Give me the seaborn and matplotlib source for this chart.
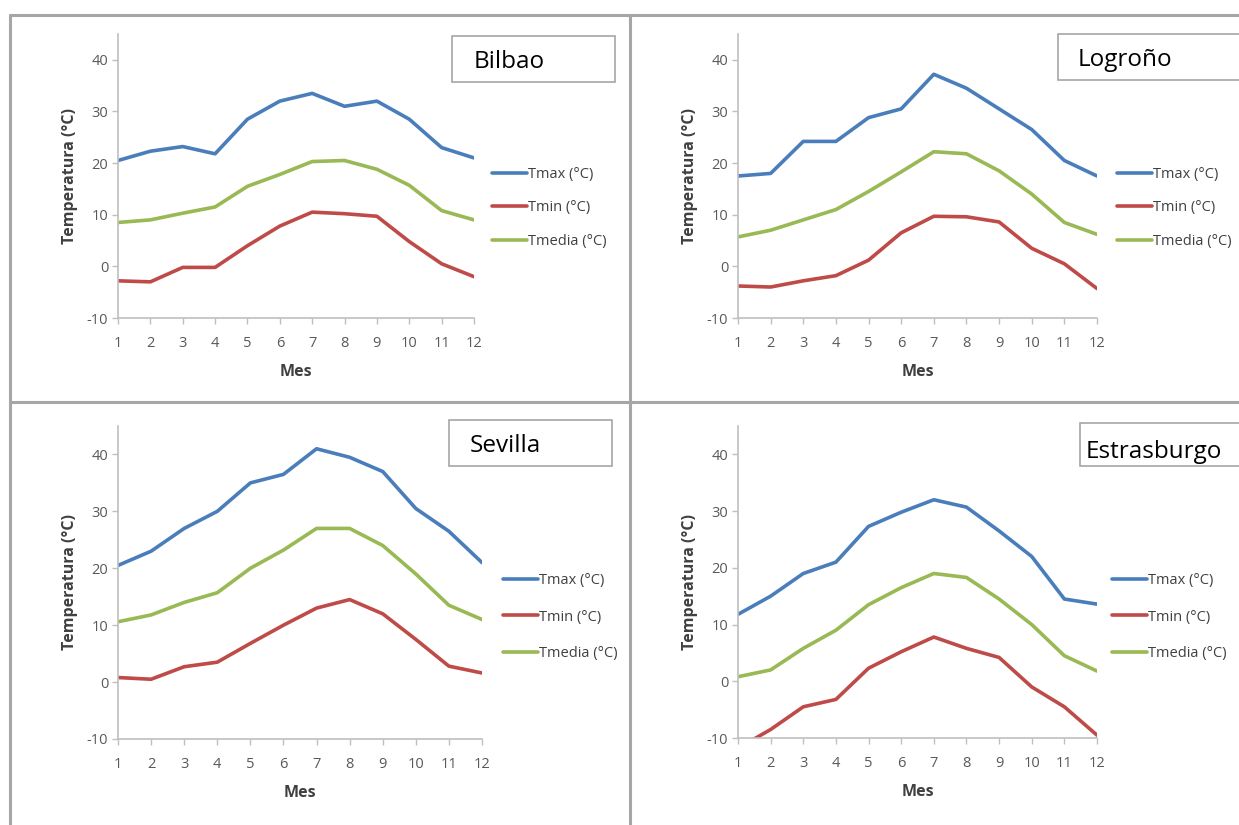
import numpy as np
import pandas as pd
import matplotlib
matplotlib.use('Agg')
import matplotlib.pyplot as plt
import seaborn as sns
from matplotlib.lines import Line2D
from matplotlib.patches import Rectangle

sns.set_theme(style='white')
plt.rcParams['font.family'] = ['Open Sans', 'DejaVu Sans']
plt.rcParams['axes.unicode_minus'] = False

meses = list(range(1, 13))
series = ['Tmax (°C)', 'Tmin (°C)', 'Tmedia (°C)']
colores = ['#4a7ebb', '#be4b48', '#98b954']

# valores, mes 1..12
bilbao_tmax = [20.5, 22.3, 23.2, 21.8, 28.5, 32.0, 33.5, 31.0, 32.0, 28.5, 23.0, 21.0]
bilbao_tmin = [-2.8, -3.0, -0.2, -0.2, 4.0, 7.8, 10.5, 10.2, 9.7, 4.8, 0.5, -2.0]
bilbao_tmed = [8.5, 9.0, 10.3, 11.5, 15.5, 17.8, 20.3, 20.5, 18.8, 15.7, 10.8, 9.0]

logrono_tmax = [17.5, 18.0, 24.2, 24.2, 28.8, 30.5, 37.2, 34.5, 30.5, 26.5, 20.5, 17.5]
logrono_tmin = [-3.8, -4.0, -2.8, -1.8, 1.2, 6.5, 9.7, 9.6, 8.6, 3.5, 0.5, -4.3]
logrono_tmed = [5.7, 7.0, 9.0, 11.0, 14.5, 18.3, 22.2, 21.8, 18.5, 14.0, 8.5, 6.2]

sevilla_tmax = [20.5, 23.0, 27.0, 30.0, 35.0, 36.5, 41.0, 39.5, 37.0, 30.5, 26.5, 21.0]
sevilla_tmin = [0.8, 0.5, 2.7, 3.5, 6.8, 10.0, 13.0, 14.5, 12.0, 7.5, 2.8, 1.6]
sevilla_tmed = [10.6, 11.8, 14.0, 15.7, 20.0, 23.2, 27.0, 27.0, 24.0, 19.0, 13.5, 11.0]

estras_tmax = [11.8, 15.0, 19.0, 21.0, 27.3, 29.8, 32.0, 30.7, 26.5, 22.0, 14.5, 13.6]
estras_tmin = [-11.8, -8.5, -4.5, -3.2, 2.3, 5.2, 7.8, 5.8, 4.2, -1.0, -4.5, -9.5]
estras_tmed = [0.8, 2.0, 5.8, 9.0, 13.5, 16.5, 19.0, 18.3, 14.5, 10.0, 4.5, 1.8]

ciudades = ['Bilbao', 'Logroño', 'Sevilla', 'Estrasburgo']
datos = {
    'Bilbao': [bilbao_tmax, bilbao_tmin, bilbao_tmed],
    'Logroño': [logrono_tmax, logrono_tmin, logrono_tmed],
    'Sevilla': [sevilla_tmax, sevilla_tmin, sevilla_tmed],
    'Estrasburgo': [estras_tmax, estras_tmin, estras_tmed],
}

W, H = 1239, 825
fig = plt.figure(figsize=(W / 100, H / 100), dpi=100)
fig.patch.set_facecolor('white')

def fx(px):
    return px / W

def fy(py):
    return 1 - py / H

# posiciones en pixeles: x mes1, x mes12, y de -10, y de 45
ejes = {
    'Bilbao': (118, 474, 318, 34),
    'Logroño': (738, 1097, 318, 34),
    'Sevilla': (118, 482, 739, 426),
    'Estrasburgo': (738, 1097, 738, 426),
}
leyenda_x = {'Bilbao': 492, 'Logroño': 1117, 'Sevilla': 503, 'Estrasburgo': 1112}
leyenda_y = {'Bilbao': 208, 'Logroño': 208, 'Sevilla': 617, 'Estrasburgo': 617}
leyenda_sp = {'Bilbao': 1.25, 'Logroño': 1.25, 'Sevilla': 1.5, 'Estrasburgo': 1.5}
cajas = {
    'Bilbao': (452, 36, 615, 82, 474, 62),
    'Logroño': (1058, 34, 1250, 80, 1078, 60),
    'Sevilla': (449, 420, 612, 466, 470, 446),
    'Estrasburgo': (1080, 423, 1250, 466, 1086, 452),
}

gris_txt = '#595959'

for ciudad in ciudades:
    x0, x1, yb, yt = ejes[ciudad]
    ax = fig.add_axes([fx(x0), fy(yb), fx(x1 - x0), (yb - yt) / H])
    df = pd.DataFrame({
        'Mes': meses * 3,
        'Temp': sum(datos[ciudad], []),
        'Serie': sum([[s] * 12 for s in series], []),
    })
    sns.lineplot(data=df, x='Mes', y='Temp', hue='Serie', hue_order=series,
                 palette=colores, linewidth=2.6, ax=ax, legend=False)
    for ln in ax.lines:
        ln.set_solid_joinstyle('round')
        ln.set_solid_capstyle('round')
    ax.set_xlim(1, 12)
    ax.set_ylim(-10, 45)
    ax.set_xticks(meses)
    ax.set_yticks([-10, 0, 10, 20, 30, 40])
    sns.despine(ax=ax)
    for s in ['left', 'bottom']:
        ax.spines[s].set_color('#bfbfbf')
        ax.spines[s].set_linewidth(1.2)
    ax.tick_params(axis='both', length=4, width=1, color='#bfbfbf',
                   labelsize=10.5, labelcolor=gris_txt, pad=3, direction='out')
    ax.tick_params(axis='x', pad=9)
    ax.tick_params(left=True, bottom=True)
    ax.set_xlabel('Mes', fontsize=11.5, fontweight='bold', color='#404040', labelpad=9)
    ax.set_ylabel('Temperatura (°C)', fontsize=11.5, fontweight='bold', color='#404040', labelpad=6)
    ax.patch.set_alpha(0)

    handles = [Line2D([0], [0], color=c, lw=2.6) for c in colores]
    lx = (leyenda_x[ciudad] - x0) / (x1 - x0)
    ly = (yb - leyenda_y[ciudad]) / (yb - yt)
    leg = ax.legend(handles, series, loc='center left', bbox_to_anchor=(lx, ly),
                    frameon=False, handlelength=2.4, handletextpad=0.1,
                    labelspacing=leyenda_sp[ciudad], borderaxespad=0, borderpad=0,
                    fontsize=10.5)
    for t in leg.get_texts():
        t.set_color('#404040')

    bx0, by0, bx1, by1, tx, ty = cajas[ciudad]
    fig.add_artist(Rectangle((fx(bx0), fy(by1)), fx(bx1 - bx0), (by1 - by0) / H,
                             transform=fig.transFigure, facecolor='white',
                             edgecolor='#a6a6a6', linewidth=1.2))
    fig.text(fx(tx), fy(ty), ciudad, fontsize=17.5, color='black', va='center', ha='left')

# marcos de los paneles
marco = dict(color='#a6a6a6', linewidth=2.2, transform=fig.transFigure)
fig.add_artist(Line2D([fx(10), 1], [fy(15), fy(15)], **marco))
fig.add_artist(Line2D([fx(10), fx(10)], [fy(15), 0], **marco))
fig.add_artist(Line2D([fx(630), fx(630)], [fy(15), 0], **marco))
fig.add_artist(Line2D([fx(10), 1], [fy(402), fy(402)], **marco))

fig.savefig('out.png', dpi=100, facecolor='white')
